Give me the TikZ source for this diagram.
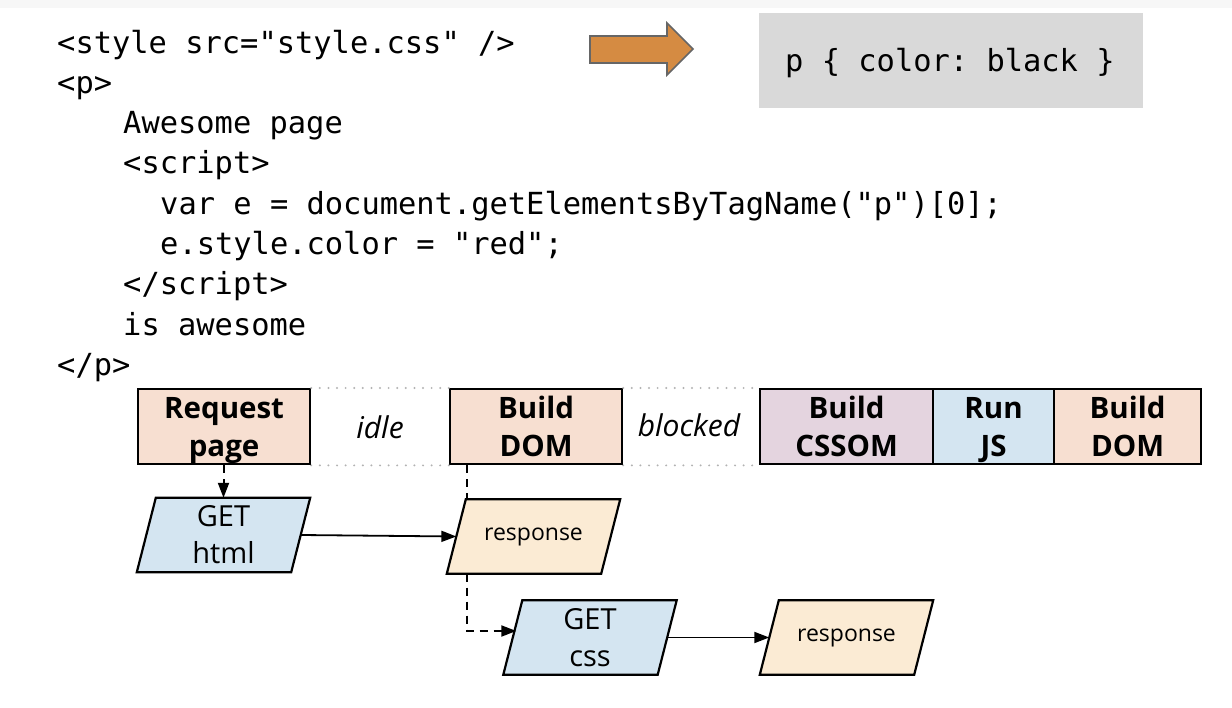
\documentclass[tikz,border=0pt]{standalone}
\usepackage{fontspec}
\setmainfont{Open Sans}
\setmonofont{DejaVu Sans Mono}
\usetikzlibrary{arrows.meta}
\definecolor{peach}{HTML}{F7DFD1}
\definecolor{mauve}{HTML}{E4D4DF}
\definecolor{sky}{HTML}{D4E5F1}
\definecolor{wheat}{HTML}{FBEBD4}
\definecolor{boxgray}{HTML}{D9D9D9}
\definecolor{orangearrow}{HTML}{D58B42}
\newcommand\parabox[5]{%
  \node[parabase] (#1) at #2 {};
  \filldraw[fill=#3, draw=black, line width=2.2pt, line join=miter]
    (#1.south west) -- ([xshift=19pt]#1.north west) -- (#1.north east) -- ([xshift=-19pt]#1.south east) -- cycle;
  \node[#4] (#1-text) at (#1.center) {#5};}
\newcommand\two[2]{\rule{0pt}{29.2pt}#1\\#2\rule[-8pt]{0pt}{8pt}}
\begin{document}
\begin{tikzpicture}[x=1pt,y=-1pt,
  code/.style={font=\ttfamily\fontsize{30.4}{36}\selectfont, inner sep=0pt, anchor=base west},
  stage/.style={draw=black, line width=2.2pt, minimum height=74pt, inner sep=0pt, anchor=north west,
     align=center, font=\bfseries\fontsize{29.5}{38}\selectfont},
  gap/.style={inner sep=0pt, font=\itshape\fontsize{30}{34}\selectfont},
  parabase/.style={minimum width=173pt, minimum height=74pt, inner sep=0pt},
  reqtext/.style={inner sep=0pt, align=center, font=\fontsize{29}{37}\selectfont},
  resptext/.style={inner sep=0pt, font=\fontsize{23}{27}\selectfont},
  dots/.style={draw=gray!60, line width=2.2pt, dash pattern=on 0pt off 8.6pt, line cap=round},
  solidarr/.style={draw=black, line width=1.8pt, -{Triangle[length=15pt,width=11pt]}},
  dashline/.style={draw=black, line width=2pt, dash pattern=on 8pt off 6pt},
  dasharr/.style={dashline, -{Triangle[length=15pt,width=11pt]}}
]
\useasboundingbox (0,0) rectangle (1232,708);
\fill[white] (0,0) rectangle (1232,708);
\fill[black!3] (0,0) rectangle (1232,8);

% code
\node[code] (c1) at (57,54) {<style src="style.css" />};
\node[code] (c2) at (57,94) {<p>};
\node[code] (c3) at (123,134) {Awesome page};
\node[code] (c4) at (123,174) {<script>};
\node[code] (c5) at (160,215) {var e = document.getElementsByTagName("p")[0];};
\node[code] (c6) at (160,255) {e.style.color = "red";};
\node[code] (c7) at (123,295) {</script>};
\node[code] (c8) at (123,336) {is awesome};
\node[code] (c9) at (57,376) {</p>};

% block arrow and css box
\draw[fill=orangearrow, draw=black!60, line width=1.6pt, line join=miter]
  (590,36) -- (667,36) -- (667,23) -- (693,49) -- (667,75) -- (667,63) -- (590,63) -- cycle;
\node[fill=boxgray, minimum width=384pt, minimum height=95pt, anchor=north west, inner sep=0pt] (css) at (759,13) {};
\node[code, anchor=west] (cssrule) at (785,63) {p \{ color: black \}};

% timeline
\node[stage, fill=peach, minimum width=172pt] (req) at (137,388) {\two{Request}{page}};
\node[stage, fill=peach, minimum width=172pt] (dom1) at (449,388) {\two{Build}{DOM}};
\node[stage, fill=mauve, minimum width=173pt] (cssom) at (759,388) {\two{Build}{CSSOM}};
\node[stage, fill=sky, minimum width=121pt] (js) at (932,388) {\two{Run}{JS}};
\node[stage, fill=peach, minimum width=147pt] (dom2) at (1053,388) {\two{Build}{DOM}};
\node[gap] (idle) at (380,427) {idle};
\node[gap] (blocked) at (689,425) {blocked};
\draw[dots] (req.north east) -- (dom1.north west);
\draw[dots] (req.south east) -- (dom1.south west);
\draw[dots] (dom1.north east) -- (cssom.north west);
\draw[dots] (dom1.south east) -- (cssom.south west);

% requests
\parabox{ghtml}{(223.5,535)}{sky}{reqtext}{GET\\html}
\parabox{r1}{(533.5,536.5)}{wheat}{resptext}{response}
\parabox{gcss}{(590,637.5)}{sky}{reqtext}{GET\\css}
\parabox{r2}{(846.5,637.5)}{wheat}{resptext}{response}

\coordinate (bend) at (467,631);
\draw[dasharr] (req.south -| ghtml.north) -- (ghtml.north);
\draw[dashline] (dom1.south -| bend) -- (bend |- r1.north);
\draw[dasharr] (bend |- r1.south) -- (bend) -- ([xshift=13pt]bend -| gcss.west);
\draw[solidarr] ([xshift=-9.5pt]ghtml.east) -- ([xshift=9.5pt]r1.west);
\draw[solidarr] ([xshift=-9.5pt]gcss.east) -- ([xshift=9.5pt]r2.west);
\end{tikzpicture}
\end{document}
